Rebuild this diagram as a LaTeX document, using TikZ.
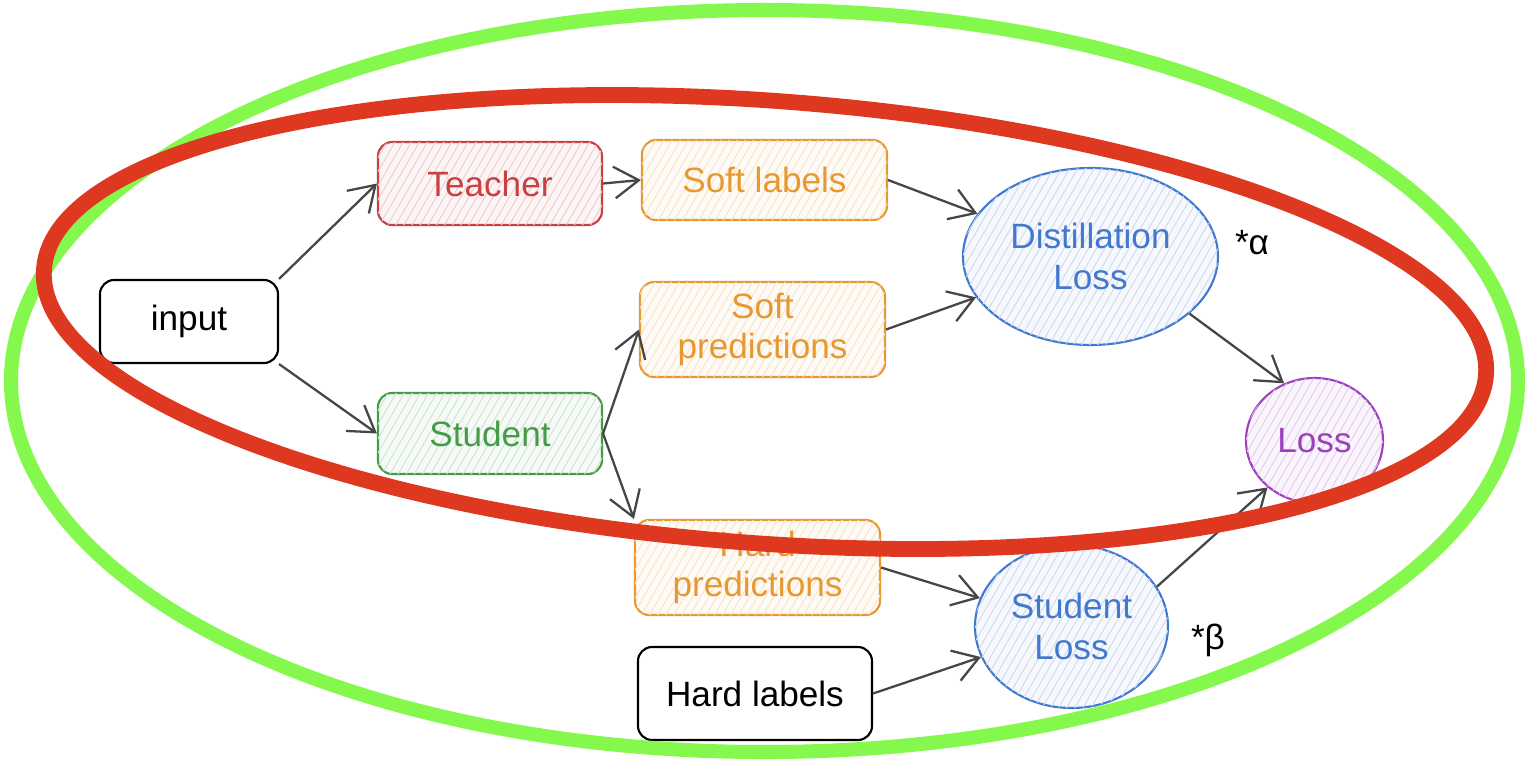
\documentclass[tikz,border=0pt]{standalone}
\usepackage{fontspec}
\setmainfont{Liberation Sans}
\usepackage{tikz}
\usetikzlibrary{shapes.geometric, arrows.meta, patterns.meta}
\tikzset{>={Straight Barb[length=7pt,width=9pt]}}

\definecolor{teachred}{RGB}{201,64,64}
\definecolor{softorange}{RGB}{232,152,48}
\definecolor{studgreen}{RGB}{68,156,72}
\definecolor{lossblue}{RGB}{66,120,205}
\definecolor{losspurple}{RGB}{156,64,190}
\definecolor{arrowgray}{RGB}{70,70,70}
\definecolor{ringred}{RGB}{222,56,33}
\definecolor{ringgreen}{RGB}{133,248,77}

\tikzset{
  box/.style={draw, rounded corners=4pt, line width=0.6pt, inner sep=0pt, align=center,
    font=\fontsize{10}{11.5}\selectfont},
  blob/.style={ellipse, draw, line width=0.6pt, inner sep=0pt, align=center,
    font=\fontsize{10}{11.5}\selectfont},
  hatch/.style={draw=#1, text=#1, fill=#1!5,
    postaction={pattern={Lines[angle=60,distance=2pt,line width=0.3pt]}, pattern color=#1!25}},
  arr/.style={->, draw=arrowgray, line width=0.65pt},
}

\begin{document}
\begin{tikzpicture}
\useasboundingbox (0,0) rectangle (15.4,-7.7);

 % Boxes
 \node[box, minimum width=1.78cm, minimum height=0.83cm] (input) at (1.89,-3.215) {input};
 \node[box, hatch=teachred, minimum width=2.24cm, minimum height=0.83cm] (teacher) at (4.90,-1.835) {Teacher};
 \node[box, hatch=studgreen, minimum width=2.24cm, minimum height=0.81cm] (student) at (4.90,-4.335) {Student};
 \node[box, hatch=softorange, minimum width=2.45cm, minimum height=0.80cm] (softlab) at (7.645,-1.80) {Soft labels};
 \node[box, hatch=softorange, minimum width=2.45cm, minimum height=0.95cm] (softpred) at (7.625,-3.295) {Soft\\predictions};
 \node[box, hatch=softorange, minimum width=2.45cm, minimum height=0.95cm] (hardpred) at (7.575,-5.675) {Hard\\predictions};
 \node[box, minimum width=2.34cm, minimum height=0.93cm] (hardlab) at (7.55,-6.935) {Hard labels};

 % Losses
 \node[blob, hatch=lossblue, minimum width=2.55cm, minimum height=1.77cm] (distloss) at (10.905,-2.565) {Distillation\\Loss};
 \node[blob, hatch=lossblue, minimum width=1.93cm, minimum height=1.63cm] (studloss) at (10.715,-6.265) {Student\\Loss};
 \node[blob, hatch=losspurple, minimum width=1.37cm, minimum height=1.25cm] (loss) at (13.145,-4.405) {Loss};

 % Weights
 \node[font=\fontsize{10}{12}\selectfont] (alpha) at (12.52,-2.43) {*α};
 \node[font=\fontsize{10}{12}\selectfont] (beta) at (12.08,-6.40) {*β};

 % Arrows
 \foreach \a/\b in {input.north east/teacher.west, input.south east/student.west,
     teacher.east/softlab.west, student.east/softpred.west, student.east/hardpred.north west,
     softlab.east/distloss, softpred.east/distloss, hardpred.east/studloss,
     hardlab.east/studloss, distloss.-30/loss.118, studloss.25/loss.225}{
    \draw[arr] (\a) -- (\b);
 }

 % Rings
 \draw[ringgreen, line width=4pt] (7.645,-3.81) ellipse [x radius=7.535, y radius=3.71];
 \draw[ringred, line width=4.5pt, rotate around={-4.2:(7.65,-3.22)}] (7.65,-3.22) ellipse [x radius=7.23, y radius=2.213];

\end{tikzpicture}
\end{document}
